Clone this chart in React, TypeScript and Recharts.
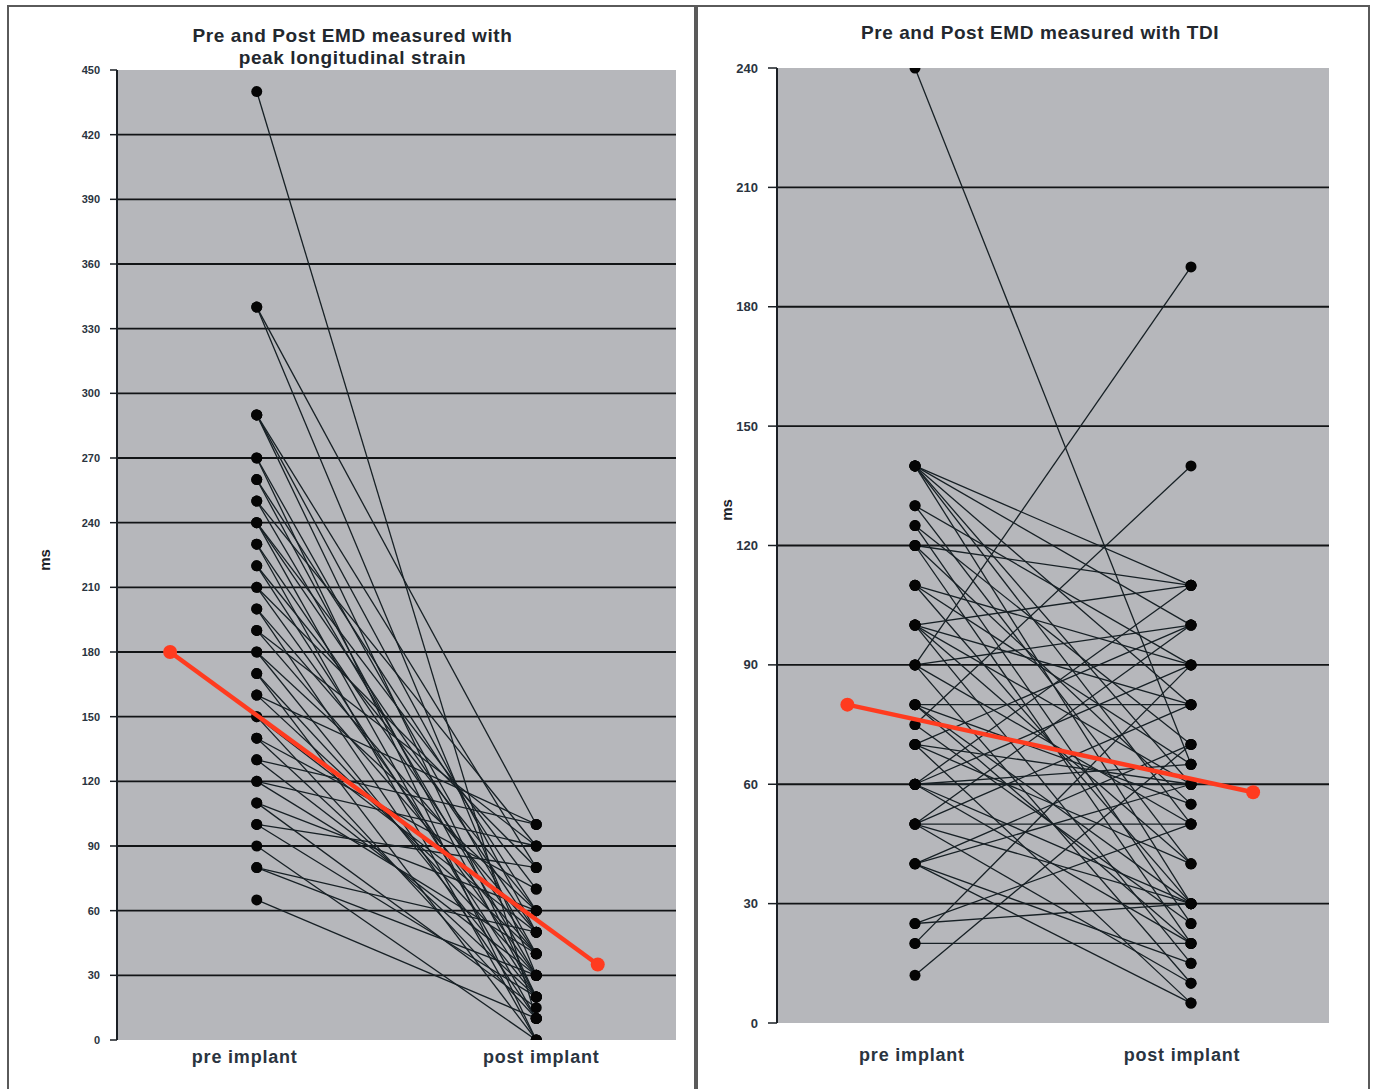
import React from 'react';
import { ScatterChart, Scatter, XAxis, YAxis, CartesianGrid } from 'recharts';

// ---- data ----
const categories = ['pre implant', 'post implant'];
const categoryX = [1, 3];

// Left: peak longitudinal strain (pre -> post pairs)
const strainPre = [
  440, 340, 340, 290, 290, 290, 270, 270, 260, 260, 250, 250, 240, 240, 240,
  230, 230, 220, 220, 210, 210, 200, 200, 190, 190, 180, 180, 170, 170, 160,
  160, 150, 150, 140, 140, 130, 130, 120, 120, 110, 110, 100, 100, 90, 80, 80, 65,
];
const strainPost = [
  10, 30, 100, 50, 20, 80, 40, 0, 60, 20, 30, 90, 10, 50, 70,
  40, 0, 20, 60, 30, 80, 50, 10, 40, 90, 20, 60, 30, 0, 40,
  100, 10, 50, 20, 70, 30, 100, 40, 90, 15, 60, 20, 80, 0, 30, 50, 10,
];
const strainMeanX = [0.38, 3.44];
const strainMean = [180, 35];
const strainTicks = [0, 30, 60, 90, 120, 150, 180, 210, 240, 270, 300, 330, 360, 390, 420, 450];

// Right: TDI (pre -> post pairs)
const tdiPre = [
  240, 140, 140, 140, 140, 140, 140, 130, 130, 125, 125, 120, 120, 120,
  110, 110, 110, 100, 100, 100, 100, 100, 90, 90, 90, 90, 80, 80, 80, 80,
  75, 75, 70, 70, 70, 70, 60, 60, 60, 60, 60, 60, 50, 50, 50, 50, 50,
  40, 40, 40, 40, 25, 25, 20, 20, 12,
];
const tdiPost = [
  65, 110, 100, 80, 60, 50, 30, 90, 40, 25, 70, 110, 55, 20,
  90, 30, 65, 110, 60, 15, 40, 80, 190, 100, 50, 10, 80, 30, 55, 20,
  140, 25, 100, 40, 5, 60, 90, 60, 20, 65, 110, 30, 80, 30, 10, 50, 100,
  70, 15, 60, 5, 50, 30, 20, 90, 70,
];
const tdiMeanX = [0.51, 3.45];
const tdiMean = [80, 58];
const tdiTicks = [0, 30, 60, 90, 120, 150, 180, 210, 240];

// ---- styles ----
const FONT = '"Liberation Sans", Arial, Helvetica, sans-serif';
const PLOT_BG = '#b6b7bb';
const GRID = '#121416';
const LINE = '#172025';
const RED = '#ff3b1f';
const TEXT = '#2a3440';

const blackDot = (p: any) => <circle cx={p.cx} cy={p.cy} r={5.5} fill="#050505" />;
const redDot = (p: any) => <circle cx={p.cx} cy={p.cy} r={7} fill={RED} />;

type PanelProps = {
  pre: number[];
  post: number[];
  meanX: number[];
  mean: number[];
  ticks: number[];
  width: number;
  height: number;
  margin: { top: number; right: number; bottom: number; left: number };
  yAxisWidth: number;
  tickFont: number;
  yTickSize: number;
  xTickMargin: number;
  xLabelDx: number[];
};

function Panel(props: PanelProps) {
  const { pre, post, meanX, mean, ticks, width, height, margin, yAxisWidth, tickFont, yTickSize, xTickMargin, xLabelDx } = props;
  const max = ticks[ticks.length - 1];
  const inner = ticks.filter((t) => t !== 0 && t !== max);
  const xTick = (p: any) => {
    const i = categoryX.indexOf(p.payload.value);
    return (
      <text
        x={p.x + xLabelDx[i]}
        y={p.y}
        dy="0.71em"
        textAnchor="middle"
        fontSize={18}
        fontWeight="bold"
        letterSpacing={0.8}
        fill={TEXT}
        fontFamily={FONT}
      >
        {categories[i]}
      </text>
    );
  };
  return (
    <ScatterChart width={width} height={height} margin={margin}>
      <CartesianGrid
        vertical={false}
        horizontalValues={inner}
        stroke={GRID}
        strokeWidth={1.8}
        fill={PLOT_BG}
        fillOpacity={1}
      />
      <XAxis
        type="number"
        dataKey="x"
        domain={[0, 4]}
        ticks={categoryX}
        axisLine={false}
        tickLine={false}
        tickMargin={xTickMargin}
        tick={xTick}
        height={40}
        allowDataOverflow
      />
      <YAxis
        type="number"
        dataKey="y"
        domain={[0, max]}
        ticks={ticks}
        width={yAxisWidth}
        axisLine={{ stroke: '#1a1f24', strokeWidth: 2 }}
        tickLine={{ stroke: '#1a1f24', strokeWidth: 1.5 }}
        tickSize={yTickSize}
        tickMargin={10}
        tick={{ fontSize: tickFont, fill: TEXT, fontFamily: FONT, fontWeight: 'bold' }}
        interval={0}
        allowDataOverflow
      />
      {pre.map((v, i) => (
        <Scatter
          key={i}
          data={[
            { x: categoryX[0], y: v },
            { x: categoryX[1], y: post[i] },
          ]}
          line={{ stroke: LINE, strokeWidth: 1.3 }}
          shape={blackDot}
          isAnimationActive={false}
        />
      ))}
      <Scatter
        data={[
          { x: meanX[0], y: mean[0] },
          { x: meanX[1], y: mean[1] },
        ]}
        line={{ stroke: RED, strokeWidth: 4.5 }}
        shape={redDot}
        isAnimationActive={false}
      />
    </ScatterChart>
  );
}

const titleStyle: React.CSSProperties = {
  position: 'absolute',
  fontFamily: FONT,
  fontWeight: 'bold',
  fontSize: 19,
  letterSpacing: 0.6,
  lineHeight: '22px',
  color: '#23282e',
  textAlign: 'center',
};

const msStyle = (cx: number, cy: number): React.CSSProperties => ({
  position: 'absolute',
  left: cx - 20,
  top: cy - 10,
  width: 40,
  height: 20,
  lineHeight: '20px',
  textAlign: 'center',
  transform: 'rotate(-90deg)',
  fontFamily: FONT,
  fontWeight: 'bold',
  fontSize: 15,
  color: '#1d2228',
});

export default function App() {
  return (
    <div style={{ position: 'absolute', left: 0, top: 0, width: 1374, height: 1089, background: '#fff', overflow: 'hidden' }}>
      <div style={{ position: 'absolute', left: 7, top: 5, width: 689, height: 1100, border: '2px solid #5a5a5a', boxSizing: 'border-box' }} />
      <div style={{ position: 'absolute', left: 696, top: 5, width: 674, height: 1100, border: '2px solid #5a5a5a', boxSizing: 'border-box' }} />

      <div style={{ position: 'absolute', left: 0, top: 0 }}>
        <Panel
          pre={strainPre}
          post={strainPost}
          meanX={strainMeanX}
          mean={strainMean}
          ticks={strainTicks}
          width={697}
          height={1089}
          margin={{ top: 70, right: 21, bottom: 9, left: 0 }}
          yAxisWidth={117}
          tickFont={11}
          yTickSize={7}
          xTickMargin={4}
          xLabelDx={[-12, 5]}
        />
      </div>
      <div style={{ position: 'absolute', left: 698, top: 0 }}>
        <Panel
          pre={tdiPre}
          post={tdiPost}
          meanX={tdiMeanX}
          mean={tdiMean}
          ticks={tdiTicks}
          width={670}
          height={1089}
          margin={{ top: 68, right: 39, bottom: 26, left: 0 }}
          yAxisWidth={79}
          tickFont={13}
          yTickSize={9}
          xTickMargin={19}
          xLabelDx={[-3, -9]}
        />
      </div>

      <div style={{ ...titleStyle, left: 8, width: 689, top: 25 }}>
        Pre and Post EMD measured with
        <br />
        peak longitudinal strain
      </div>
      <div style={{ ...titleStyle, left: 790, width: 500, top: 22 }}>Pre and Post EMD measured with TDI</div>

      <div style={msStyle(45, 560)}>ms</div>
      <div style={msStyle(727, 510)}>ms</div>
    </div>
  );
}
